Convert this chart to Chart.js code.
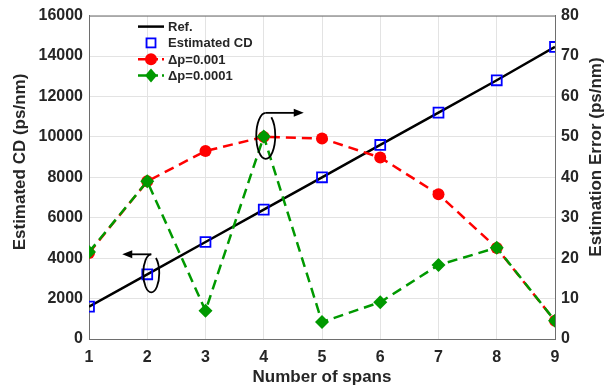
<!DOCTYPE html>
<html><head><meta charset="utf-8">
<script src="https://cdn.jsdelivr.net/npm/chart.js@4"></script>
<style>html,body{margin:0;padding:0;background:#fff}#w{width:605px;height:388px}</style>
</head><body><div id="w"><canvas id="c"></canvas></div>
<script>
const spans = [1,2,3,4,5,6,7,8,9];
const refCD = [1600,3200,4800,6400,8000,9600,11200,12800,14450];
const estCD = [1600,3200,4800,6400,8000,9600,11200,12800,14450];
const errDp001 = [21.3,39,46.5,50,49.6,44.9,35.8,22.5,4.5];
const errDp0001 = [21.5,39,7,50.1,4.2,9.1,18.3,22.6,4.5];
const leftTicks = [0,2000,4000,6000,8000,10000,12000,14000,16000];
const rightTicks = [0,10,20,30,40,50,60,70,80];

const pts = arr => arr.map((v,i)=>({x:spans[i], y:v}));
const FONT = "'Liberation Sans', Arial, sans-serif";
const TXT = '#262626';

const decor = {
  id:'decor',
  afterDraw(chart){
    const {ctx} = chart;
    ctx.save();
    ctx.fillStyle = TXT; ctx.font = "bold 17px "+FONT;
    ctx.textAlign='center'; ctx.textBaseline='middle';
    ctx.translate(20,162); ctx.rotate(-Math.PI/2); ctx.fillText('Estimated CD (ps/nm)',0,0);
    ctx.setTransform(1,0,0,1,0,0);
    ctx.translate(596,157); ctx.rotate(-Math.PI/2); ctx.fillText('Estimation Error (ps/nm)',0,0);
    ctx.restore();
  },
  afterDatasetsDraw(chart){
    const {ctx, chartArea:a, scales} = chart;
    const xs = scales.x, yl = scales.y;
    ctx.save();
    ctx.strokeStyle = '#6e6e6e'; ctx.lineWidth = 1;
    ctx.beginPath(); ctx.moveTo(a.left, a.top+0.5); ctx.lineTo(a.right, a.top+0.5); ctx.stroke();
    ctx.strokeStyle = '#000'; ctx.fillStyle = '#000'; ctx.lineWidth = 1.8;
    function arrow(x1,y,x2){
      const dir = Math.sign(x2-x1);
      ctx.beginPath(); ctx.moveTo(x1,y); ctx.lineTo(x2-dir*7,y); ctx.stroke();
      ctx.beginPath(); ctx.moveTo(x2,y); ctx.lineTo(x2-dir*10,y-4); ctx.lineTo(x2-dir*10,y+4); ctx.closePath(); ctx.fill();
    }
    const c1x = xs.getPixelForValue(4)+2, c1y = yl.getPixelForValue(10050);
    ctx.beginPath(); ctx.ellipse(c1x, c1y, 9.5, 23, 0, -Math.PI/2, -Math.PI*0.3, true); ctx.stroke();
    arrow(c1x, c1y-23, c1x+38);
    const c2x = xs.getPixelForValue(2)+4, c2y = yl.getPixelForValue(3250);
    ctx.beginPath(); ctx.ellipse(c2x, c2y, 8, 19, 0, -Math.PI/2, -Math.PI*0.3, true); ctx.stroke();
    arrow(c2x, c2y-19, c2x-29);
    const lx = a.left+49, ly = a.top+11, dy = 16.3;
    ctx.font = "bold 13px "+FONT; ctx.textBaseline='middle'; ctx.textAlign='left';
    const items = [
      {t:'Ref.', line:'#000', dash:[], mark:null},
      {t:'Estimated CD', line:null, mark:'sq'},
      {t:'\u0394p=0.001', line:'#ff0000', dash:[8,4], mark:'ci'},
      {t:'\u0394p=0.0001', line:'#009900', dash:[8,4], mark:'di'}
    ];
    items.forEach((it,i)=>{
      const y = ly + i*dy, x0 = lx, x1 = lx+26, xm = lx+13;
      if(it.line){ ctx.strokeStyle=it.line; ctx.lineWidth=2.5; ctx.setLineDash(it.dash); ctx.beginPath(); ctx.moveTo(x0,y); ctx.lineTo(x1,y); ctx.stroke(); ctx.setLineDash([]); }
      if(it.mark==='sq'){ ctx.strokeStyle='#0000ff'; ctx.lineWidth=1.8; ctx.strokeRect(xm-4.5,y-4.5,9,9); }
      if(it.mark==='ci'){ ctx.fillStyle='#ff0000'; ctx.beginPath(); ctx.arc(xm,y,6,0,Math.PI*2); ctx.fill(); }
      if(it.mark==='di'){ ctx.fillStyle='#009900'; ctx.beginPath(); ctx.moveTo(xm,y-7); ctx.lineTo(xm+6,y); ctx.lineTo(xm,y+7); ctx.lineTo(xm-6,y); ctx.closePath(); ctx.fill(); }
      ctx.fillStyle = TXT; ctx.fillText(it.t, lx+30, y+1);
    });
    ctx.restore();
  }
};

const tickFont = {family:FONT, size:16, weight:'bold'};
new Chart(document.getElementById('c'), {
  type:'line',
  data:{ datasets:[
    {label:'Ref.', data:pts(refCD), yAxisID:'y', borderColor:'#000', borderWidth:2.5, pointRadius:0, order:4},
    {label:'Estimated CD', data:pts(estCD), yAxisID:'y', showLine:false, pointStyle:'rect', pointRadius:7, borderColor:'#0000ff', backgroundColor:'rgba(0,0,0,0)', pointBorderWidth:1.8, order:3},
    {label:'\u0394p=0.001', data:pts(errDp001), yAxisID:'y1', borderColor:'#ff0000', borderWidth:2.5, borderDash:[10,6], pointStyle:'circle', pointRadius:6, pointBackgroundColor:'#ff0000', pointBorderWidth:0, order:2},
    {label:'\u0394p=0.0001', data:pts(errDp0001), yAxisID:'y1', borderColor:'#009900', borderWidth:2.5, borderDash:[10,6], pointStyle:'rectRot', pointRadius:7, pointBackgroundColor:'#009900', pointBorderWidth:0, order:1}
  ]},
  options:{
    responsive:true, maintainAspectRatio:false, animation:false,
    layout:{padding:{top:15,right:0,left:0,bottom:0}},
    plugins:{legend:{display:false}, tooltip:{enabled:false}},
    elements:{line:{tension:0}},
    scales:{
      x:{type:'linear', min:1, max:9, afterBuildTicks:s=>{s.ticks=spans.map(v=>({value:v}));},
        grid:{color:'#e3e3e3', drawTicks:false}, border:{color:'#6e6e6e'},
        ticks:{color:TXT, font:tickFont, padding:9, callback:v=>String(v)},
        title:{display:true, text:'Number of spans', color:TXT, font:{family:FONT, size:17, weight:'bold'}, padding:{top:0,bottom:0}},
        afterFit:s=>{s.height=49;}},
      y:{position:'left', min:0, max:16000, afterBuildTicks:s=>{s.ticks=leftTicks.map(v=>({value:v}));},
        grid:{color:'#e3e3e3', drawTicks:false}, border:{color:'#6e6e6e'},
        ticks:{color:TXT, font:tickFont, padding:6, callback:v=>String(v)},
        afterFit:s=>{s.width=89;}},
      y1:{position:'right', min:0, max:80, afterBuildTicks:s=>{s.ticks=rightTicks.map(v=>({value:v}));},
        grid:{display:false, drawTicks:false}, border:{color:'#6e6e6e'},
        ticks:{color:TXT, font:tickFont, padding:6, callback:v=>String(v)},
        afterFit:s=>{s.width=50;}}
    }
  },
  plugins:[decor]
});
</script></body></html>
